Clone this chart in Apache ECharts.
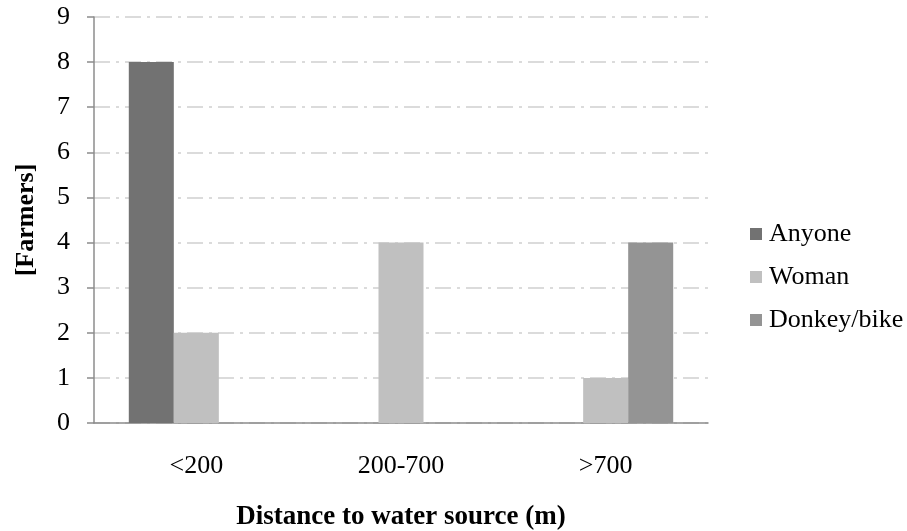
<!DOCTYPE html>
<html><head><meta charset="utf-8">
<script src="https://cdn.jsdelivr.net/npm/echarts@6/dist/echarts.min.js"></script>
<style>html,body{margin:0;padding:0;background:#fff}#c{width:907px;height:531px}</style>
</head><body><div id="c"></div>
<script>
const categories = ['<200', '200-700', '>700'];
const anyone = [8, 0, 0];
const woman = [2, 4, 1];
const donkey = [0, 0, 4];
const yTicks = [0, 1, 2, 3, 4, 5, 6, 7, 8, 9];
const seriesNames = ['Anyone', 'Woman', 'Donkey/bike'];
const colors = ['#727272', '#c0c0c0', '#949494'];
const F = 'Liberation Serif';
const chart = echarts.init(document.getElementById('c'));
const mk = (name, data, color) => ({
  name, type: 'bar', data: data.map(v => v === 0 ? null : v),
  itemStyle: { color }, barGap: '0%', barCategoryGap: '34%', animation: false
});
chart.setOption({
  animation: false,
  grid: { left: 94, right: 199, top: 17, bottom: 108, outerBoundsMode: 'none', containLabel: false },
  legend: {
    orient: 'vertical', left: 745, top: 216, itemWidth: 12, itemHeight: 12, itemGap: 17,
    icon: 'rect', data: seriesNames,
    textStyle: { fontFamily: F, fontSize: 26, color: '#000', padding: [0, 0, 0, 2] }
  },
  xAxis: {
    type: 'category', data: categories,
    name: 'Distance to water source (m)', nameLocation: 'middle', nameGap: 81,
    nameTextStyle: { fontFamily: F, fontSize: 27, fontWeight: 'bold', color: '#000' },
    axisLine: { lineStyle: { color: '#8c8c8c', width: 1.5 } },
    axisTick: { length: 7, lineStyle: { color: '#8c8c8c', width: 1.5 } },
    axisLabel: { fontFamily: F, fontSize: 26, color: '#000', margin: 30 }
  },
  yAxis: {
    type: 'value', min: 0, max: 9, interval: 1,
    name: '[Farmers]', nameLocation: 'middle', nameGap: 55,
    nameTextStyle: { fontFamily: F, fontSize: 26, fontWeight: 'bold', color: '#000' },
    axisLine: { show: true, lineStyle: { color: '#8c8c8c', width: 1.5 } },
    axisTick: { show: true, length: 7, lineStyle: { color: '#8c8c8c', width: 1.5 } },
    axisLabel: { fontFamily: F, fontSize: 26, color: '#000', margin: 24, padding: [7, 0, 0, 0],
      formatter: v => yTicks.includes(v) ? String(v) : '' },
    splitLine: { lineStyle: { color: '#d0d0d0', width: 1.5, type: [16, 6, 3, 6] } }
  },
  color: colors,
  series: [mk(seriesNames[0], anyone, colors[0]), mk(seriesNames[1], woman, colors[1]), mk(seriesNames[2], donkey, colors[2])]
});
</script></body></html>
